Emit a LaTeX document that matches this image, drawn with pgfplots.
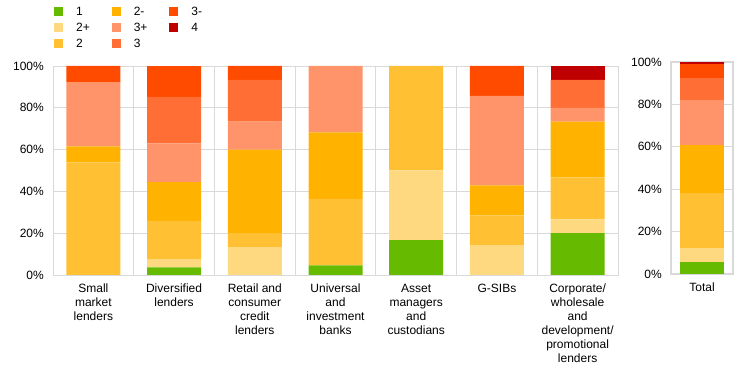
\documentclass[border=0pt]{standalone}
\usepackage{pgfplots}
\pgfplotsset{compat=1.18}
\usepackage{pgfplotstable}
\usepackage{fontspec}
\setmainfont{Liberation Sans}
\definecolor{cA}{HTML}{66BB00}
\definecolor{cB}{HTML}{FFD97F}
\definecolor{cC}{HTML}{FFC133}
\definecolor{cD}{HTML}{FFB300}
\definecolor{cE}{HTML}{FF936A}
\definecolor{cF}{HTML}{FF6F35}
\definecolor{cG}{HTML}{FF4B00}
\definecolor{cH}{HTML}{C00000}
\definecolor{gridgray}{HTML}{D9D9D9}
\pgfplotstableread{
x  one  twop  two   twom  threep threem three four
0  0     0     53.85 7.69  30.77  7.69   0     0
1  3.70  3.70  18.52 18.52 18.52  14.81  22.22 0
2  0     13.33 6.67  40.00 13.33  6.67   20.00 0
3  4.55  0     31.82 31.82 31.82  0      0     0
4  16.67 33.33 50.00 0     0      0      0     0
5  0     14.29 14.29 14.29 42.86  14.29  0     0
6  20.00 6.67  20.00 26.67 6.67   0      13.33 6.67
}\datamain
\pgfplotstableread{
x  one  twop  two   twom  threep threem three four
0  5.71 6.67  25.71 22.86 20.95  6.67   10.48 0.95
}\datatotal
\pgfplotsset{
  common/.style={
    scale only axis,
    ybar stacked,
    ymin=0, ymax=100,
    ytick={0,20,40,60,80,100},
    yticklabels={0\%,20\%,40\%,60\%,80\%,100\%},
    ymajorgrids,
    major grid style={gridgray, line width=0.9bp},
    minor grid style={gridgray, line width=0.9bp},
    axis line style={gridgray, line width=0.9bp},
    major tick length=0pt, minor tick length=0pt,
    tick style={draw=none},
    tick label style={font=\fontsize{12bp}{14bp}\selectfont, inner sep=0pt},
    yticklabel style={xshift=-9bp},
    xticklabel style={align=center, anchor=north, yshift=-9bp},
    every axis plot/.append style={draw=none},
  },
  sq/.style={legend image code/.code={\fill[#1] (0bp,-0.5bp) rectangle (9bp,9bp); \path (0bp,0bp) -- (22bp,0bp);}},
}
\begin{document}
\begin{tikzpicture}
\useasboundingbox (0bp,0bp) rectangle (744bp,374bp);
\begin{axis}[common,
  at={(53bp,99bp)}, anchor=south west,
  width=565bp, height=209bp,
  xmin=-0.5, xmax=6.5,
  bar width=54bp,
  xtick={0,1,2,3,4,5,6},
  xticklabels={Small\\market\\lenders, Diversified\\lenders, Retail and\\consumer\\credit\\lenders, Universal\\and\\investment\\banks, Asset\\managers\\and\\custodians, G-SIBs, Corporate/\\wholesale\\and\\development/\\promotional\\lenders},
  minor xtick={0.5,1.5,2.5,3.5,4.5,5.5},
  xminorgrids,
  legend columns=3,
  legend cell align=left,
  legend style={at={(axis description cs:0.002,1.287)}, anchor=north west, draw=none, fill=none, inner sep=0pt, outer sep=0pt,
    row sep=4bp, column sep=0pt,
    nodes={inner sep=0pt, anchor=base west, text height=9.5bp, text depth=2.5bp, font=\fontsize{12bp}{14bp}\selectfont},
    /tikz/every even column/.append style={column sep=22bp}},
]
\addplot[fill=cA, forget plot] table[x=x,y=one]{\datamain};
\addplot[fill=cB, forget plot] table[x=x,y=twop]{\datamain};
\addplot[fill=cC, forget plot] table[x=x,y=two]{\datamain};
\addplot[fill=cD, forget plot] table[x=x,y=twom]{\datamain};
\addplot[fill=cE, forget plot] table[x=x,y=threep]{\datamain};
\addplot[fill=cF, forget plot] table[x=x,y=three]{\datamain};
\addplot[fill=cG, forget plot] table[x=x,y=threem]{\datamain};
\addplot[fill=cH, forget plot] table[x=x,y=four]{\datamain};
\addlegendimage{sq=cA}\addlegendentry{1}
\addlegendimage{sq=cD}\addlegendentry{2-}
\addlegendimage{sq=cG}\addlegendentry{3-}
\addlegendimage{sq=cB}\addlegendentry{2+}
\addlegendimage{sq=cE}\addlegendentry{3+}
\addlegendimage{sq=cH}\addlegendentry{4}
\addlegendimage{sq=cC}\addlegendentry{2}
\addlegendimage{sq=cF}\addlegendentry{3}
\end{axis}
\begin{axis}[common,
  at={(671bp,100bp)}, anchor=south west,
  width=62bp, height=212bp,
  xmin=-0.5, xmax=0.5,
  bar width=44bp,
  axis line style={gridgray, line width=1.6bp},
  xtick={0}, xticklabels={Total},
]
\addplot[fill=cA] table[x=x,y=one]{\datatotal};
\addplot[fill=cB] table[x=x,y=twop]{\datatotal};
\addplot[fill=cC] table[x=x,y=two]{\datatotal};
\addplot[fill=cD] table[x=x,y=twom]{\datatotal};
\addplot[fill=cE] table[x=x,y=threep]{\datatotal};
\addplot[fill=cF] table[x=x,y=three]{\datatotal};
\addplot[fill=cG] table[x=x,y=threem]{\datatotal};
\addplot[fill=cH] table[x=x,y=four]{\datatotal};
\end{axis}
\end{tikzpicture}
\end{document}
